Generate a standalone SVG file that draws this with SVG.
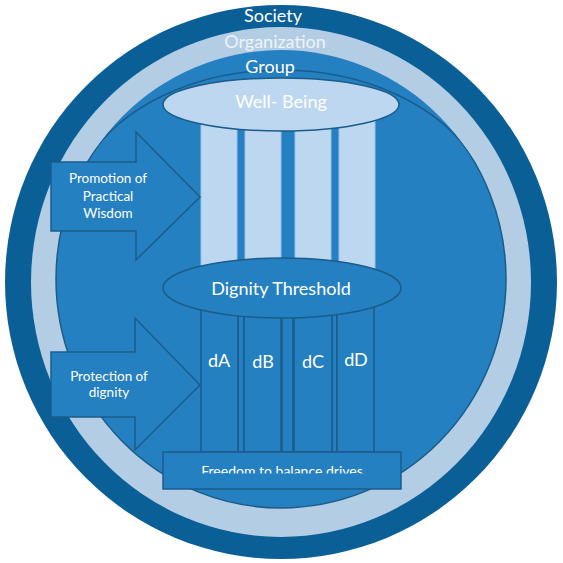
<svg xmlns="http://www.w3.org/2000/svg" width="563" height="563" viewBox="0 0 563 563">
<style>
.t{font-family:Lato,"Open Sans","Liberation Sans",sans-serif;fill:#ffffff;text-anchor:middle}
.big{font-size:18px}
.sm{font-size:13.5px}
.med{fill:#2580C1;stroke:#1B5C8A;stroke-width:1.5}
.line{fill:none;stroke:#1B5C8A;stroke-width:1.5}
.pale{fill:#BDD7F0;stroke:#9DC0E2;stroke-width:1}
.col{fill:#2580C1;stroke:#1B5C8A;stroke-width:1.5}
</style>
<defs>
<clipPath id="fclip"><rect x="163" y="452" width="238" height="21.5"/></clipPath>
<clipPath id="inner"><ellipse cx="281" cy="279" rx="225" ry="229"/></clipPath>
<clipPath id="lower"><path d="M87.6,160 A211,150 0 0 1 474.4,160 L600,160 L600,600 L-40,600 L-40,160 Z"/></clipPath>
</defs>
<g id="rings">
<ellipse cx="281" cy="282" rx="276" ry="277" fill="#0A5F96"/>
<ellipse cx="281" cy="282" rx="250" ry="255" fill="#B3CDE5"/>
<ellipse cx="281" cy="279" rx="225" ry="229" fill="#2580C1"/>
<ellipse cx="281" cy="279" rx="225" ry="229" class="line" clip-path="url(#lower)"/>
<path d="M87.6,160 A211,150 0 0 1 474.4,160" class="line" clip-path="url(#inner)"/>
<text class="t big" x="273" y="22">Society</text>
<text class="t big" x="275" y="48" style="fill:#EEF4FA">Organization</text>
<text class="t big" x="270" y="73">Group</text>
</g>
<g id="pillars">
<rect x="201" y="118" width="36" height="152" class="pale"/>
<rect x="245" y="118" width="36" height="152" class="pale"/>
<rect x="295" y="118" width="36" height="152" class="pale"/>
<rect x="339" y="118" width="36" height="152" class="pale"/>
</g>
<g id="wellbeing">
<ellipse cx="281" cy="104.5" rx="118" ry="26.5" fill="#BDD7F0" stroke="#1B5C8A" stroke-width="1.5"/>
<text class="t big" x="281" y="108">Well- Being</text>
</g>
<g id="columns">
<rect x="238" y="300" width="6" height="152" class="col"/>
<rect x="282" y="300" width="11" height="152" class="col"/>
<rect x="332" y="300" width="5" height="152" class="col"/>
<rect x="201" y="300" width="37" height="152" class="col"/>
<rect x="244" y="300" width="37" height="152" class="col"/>
<rect x="294" y="300" width="38" height="152" class="col"/>
<rect x="337" y="300" width="37" height="152" class="col"/>
<text class="t big" x="219" y="367">dA</text>
<text class="t big" x="263" y="368">dB</text>
<text class="t big" x="313" y="368">dC</text>
<text class="t big" x="356" y="366">dD</text>
</g>
<g id="dignity">
<ellipse cx="282" cy="288" rx="119" ry="30" class="med"/>
<text class="t big" x="281" y="295">Dignity Threshold</text>
</g>
<g id="freedom">
<rect x="163" y="452" width="238" height="37" class="med"/>
<text class="t" x="282" y="476" style="font-size:14px" clip-path="url(#fclip)">Freedom to balance drives</text>
</g>
<g id="connectors">
<g id="arrow-wisdom">
<polygon points="51,162 136,162 136,132 200,197 136,260 136,231 51,231" class="med"/>
<text class="t sm" x="108" y="183">Promotion of</text>
<text class="t sm" x="108" y="201">Practical</text>
<text class="t sm" x="108" y="218">Wisdom</text>
</g>
<g id="arrow-dignity">
<polygon points="51,352 135,352 135,318 200,385 135,450 135,417 51,417" class="med"/>
<text class="t sm" x="109" y="381">Protection of</text>
<text class="t sm" x="109" y="397">dignity</text>
</g>
</g>
</svg>
